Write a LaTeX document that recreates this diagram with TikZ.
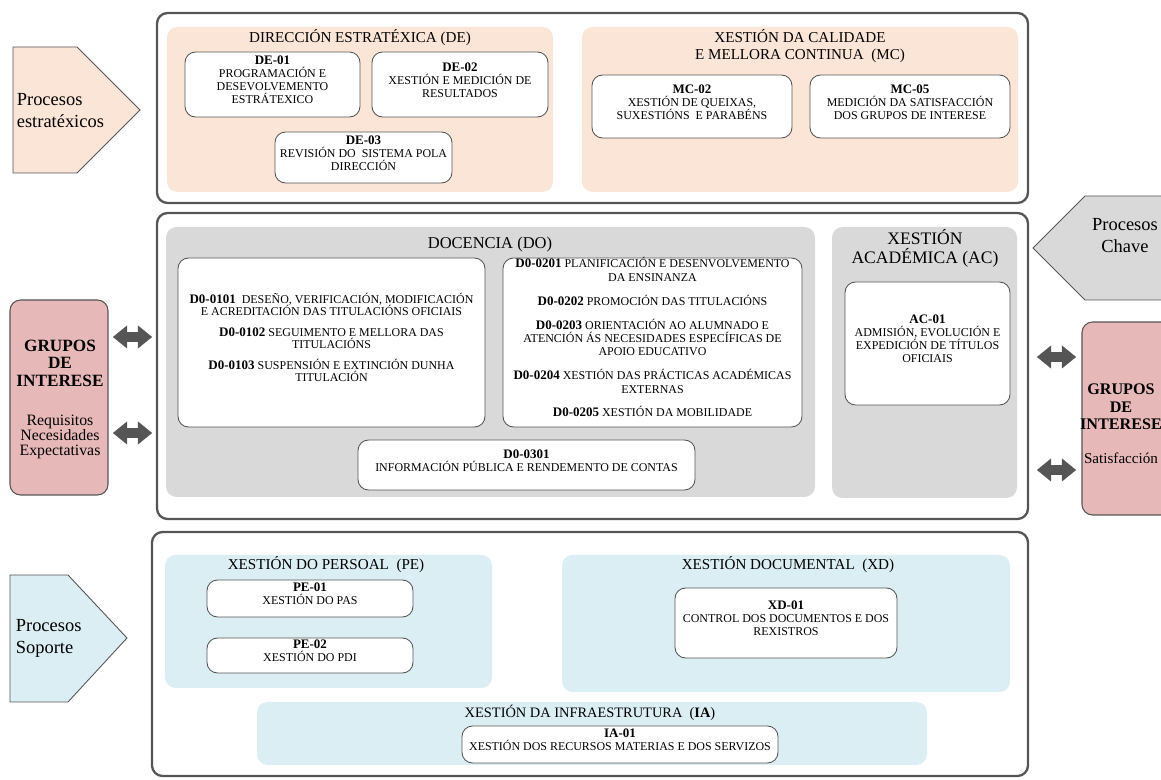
\documentclass[tikz,border=0pt]{standalone}
\usepackage{fontspec}
\setmainfont{Liberation Serif}
\usetikzlibrary{arrows.meta,fit,positioning}

\definecolor{peach}{HTML}{FBE5D6}
\definecolor{panelgrey}{HTML}{D9D9D9}
\definecolor{panelblue}{HTML}{DBEEF3}
\definecolor{grupopink}{HTML}{E6B9B8}
\definecolor{edgegrey}{HTML}{555555}

\newcommand{\fsbox}{\fontsize{6.8}{7.4}\selectfont}
\newcommand{\fscode}{\fontsize{7.4}{7.4}\selectfont\bfseries}
\newcommand{\fsdol}{\fontsize{6.8}{6.9}\selectfont}
\newcommand{\fsdor}{\fontsize{6.8}{7.6}\selectfont}
\newcommand{\fstitle}{\fontsize{8.6}{10}\selectfont}
\newcommand{\fsproc}{\fontsize{10.5}{12.5}\selectfont}

\tikzset{
	outerbox/.style={draw=edgegrey, line width=1.3pt, rounded corners=6pt, inner sep=0pt},
	panel/.style={rounded corners=6pt, inner sep=0pt},
	procbox/.style={draw=edgegrey, fill=white, line width=0.5pt, rounded corners=6pt, inner sep=0pt, align=center, font=\fsbox},
	paneltitle/.style={align=center, font=\fstitle, inner sep=0pt},
	procshape/.style={draw=edgegrey, line width=0.5pt},
	proctext/.style={align=left, font=\fsproc, inner sep=2pt},
	grupobox/.style={draw=edgegrey, fill=grupopink, line width=0.6pt, rounded corners=6pt, inner sep=0pt},
	grupohead/.style={align=center, font=\fontsize{9.8}{10}\selectfont\bfseries, inner sep=0pt},
	grupotext/.style={align=center, font=\fontsize{9}{8.6}\selectfont, inner sep=0pt},
	dblarrow/.style={draw=edgegrey, line width=5.5pt, {Triangle[length=8pt,width=13pt,line width=0.1pt]}-{Triangle[length=8pt,width=13pt,line width=0.1pt]}},
}

\begin{document}
\begin{tikzpicture}[x=0.02cm, y=-0.02cm]
	\useasboundingbox (0,0) rectangle (1161,780);
	\clip (0,0) rectangle (1161,780);
	
	% procesos estratexicos
	\node (estrat) [outerbox, fit={(157,13) (1028,203)}] {};
	\node (de) [panel, fill=peach, fit={(167,27) (553,192)}] {};
	\node (detit) [paneltitle] at (360,38) {DIRECCIÓN ESTRATÉXICA (DE)};
	\node (de01) [procbox, fit={(185,52) (360,117)}] {{\fscode DE-01}\\PROGRAMACIÓN E\\DESEVOLVEMENTO\\ESTRÁTEXICO};
	\node (de02) [procbox, fit={(372,52) (548,117)}] {{\fscode DE-02}\\XESTIÓN E MEDICIÓN DE\\RESULTADOS};
	\node (de03) [procbox, fit={(275,132) (452,183)}] {{\fscode DE-03}\\REVISIÓN DO\ \ SISTEMA POLA\\DIRECCIÓN};
	\node (mc) [panel, fill=peach, fit={(582,27) (1018,192)}] {};
	\node (mctit) [paneltitle] at (800,46) {XESTIÓN DA CALIDADE\\E MELLORA CONTINUA\ \ (MC)};
	\node (mc02) [procbox, fit={(592,75) (792,138)}] {{\fscode MC-02}\\XESTIÓN DE QUEIXAS,\\SUXESTIÓNS\ \ E PARABÉNS};
	\node (mc05) [procbox, fit={(810,75) (1010,138)}] {{\fscode MC-05}\\MEDICIÓN DA SATISFACCIÓN\\DOS GRUPOS DE INTERESE};
	\draw[procshape, fill=peach] (13,47) -- (77,47) -- (140,110) -- (77,173) -- (13,173) -- cycle;
	\node (pestr) [proctext, anchor=west] at (13,111) {Procesos\\estratéxicos};
	
	% procesos chave
	\node (chave) [outerbox, fit={(157,213) (1028,519)}] {};
	\node (do) [panel, fill=panelgrey, fit={(166,227) (815,497)}] {};
	\node (dotit) [paneltitle, font=\fontsize{9.4}{10}\selectfont] at (490,245) {DOCENCIA (DO)};
	\node (do01) [procbox, font=\fsdol, fit={(178,258) (485,427)}] {{\fscode D0-0101}\ \ DESEÑO, VERIFICACIÓN, MODIFICACIÓN\\E ACREDITACIÓN DAS TITULACIÓNS OFICIAIS\\[5pt]{\fscode D0-0102} SEGUIMENTO E MELLORA DAS\\TITULACIÓNS\\[5pt]{\fscode D0-0103} SUSPENSIÓN E EXTINCIÓN DUNHA\\TITULACIÓN};
	\node (do02) [procbox, font=\fsdor, fit={(503,258) (802,427)}] {{\fscode D0-0201} PLANIFICACIÓN E DESENVOLVEMENTO\\DA ENSINANZA\\[6pt]{\fscode D0-0202} PROMOCIÓN DAS TITULACIÓNS\\[6pt]{\fscode D0-0203} ORIENTACIÓN AO ALUMNADO E\\ATENCIÓN ÁS NECESIDADES ESPECÍFICAS DE\\APOIO EDUCATIVO\\[6pt]{\fscode D0-0204} XESTIÓN DAS PRÁCTICAS ACADÉMICAS\\EXTERNAS\\[6pt]{\fscode D0-0205} XESTIÓN DA MOBILIDADE};
	\node (do03) [procbox, fit={(358,440) (695,490)}] {{\fscode D0-0301}\\INFORMACIÓN PÚBLICA E RENDEMENTO DE CONTAS};
	\node (ac) [panel, fill=panelgrey, fit={(832,227) (1017,498)}] {};
	\node (actit) [paneltitle, font=\fontsize{10}{11}\selectfont] at (925,248) {XESTIÓN\\ACADÉMICA (AC)};
	\node (ac01) [procbox, fit={(845,282) (1010,405)}] {{\fscode AC-01}\\ADMISIÓN, EVOLUCIÓN E\\EXPEDICIÓN DE TÍTULOS\\OFICIAIS};
	\draw[procshape, fill=panelgrey] (1175,196) -- (1085,196) -- (1033,248) -- (1085,300) -- (1175,300) -- cycle;
	\node (pchave) [proctext, align=center] at (1125,236) {Procesos\\Chave};
	
	% procesos soporte
	\node (soporte) [outerbox, fit={(152,532) (1028,776)}] {};
	\node (pe) [panel, fill=panelblue, fit={(165,555) (492,688)}] {};
	\node (petit) [paneltitle] at (326,565) {XESTIÓN DO PERSOAL\ \ (PE)};
	\node (pe01) [procbox, fit={(207,580) (413,617)}] {{\fscode PE-01}\\XESTIÓN DO PAS};
	\node (pe02) [procbox, fit={(207,638) (413,673)}] {{\fscode PE-02}\\XESTIÓN DO PDI};
	\node (xd) [panel, fill=panelblue, fit={(562,555) (1010,692)}] {};
	\node (xdtit) [paneltitle] at (788,565) {XESTIÓN DOCUMENTAL\ \ (XD)};
	\node (xd01) [procbox, fit={(675,588) (897,658)}] {{\fscode XD-01}\\CONTROL DOS DOCUMENTOS E DOS\\REXISTROS};
	\node (ia) [panel, fill=panelblue, fit={(257,702) (927,765)}] {};
	\node (iatit) [paneltitle, font=\fontsize{8.2}{10}\selectfont] at (590,713) {XESTIÓN DA INFRAESTRUTURA\ \ (\textbf{IA})};
	\node (ia01) [procbox, fit={(462,726) (778,763)}] {{\fscode IA-01}\\XESTIÓN DOS RECURSOS MATERIAS E DOS SERVIZOS};
	\draw[procshape, fill=panelblue] (10,575) -- (68,575) -- (127,638) -- (68,702) -- (10,702) -- cycle;
	\node (psop) [proctext, anchor=west] at (12,638) {Procesos\\Soporte};
	
	% grupos de interese
	\node (grupl) [grupobox, fit={(10,300) (108,495)}] {};
	\node (grupltit) [grupohead] at (60,363) {GRUPOS\\DE\\INTERESE};
	\node (grupltxt) [grupotext] at (60,437) {Requisitos\\Necesidades\\Expectativas};
	\node (grupr) [grupobox, fit={(1082,322) (1182,515)}] {};
	\node (gruprtit) [grupohead, font=\fontsize{9.2}{10}\selectfont\bfseries] at (1121,407) {GRUPOS\\DE\\INTERESE};
	\node (gruprtxt) [grupotext, font=\fontsize{8.6}{8.6}\selectfont] at (1121,458) {Satisfacción};
	
	\coordinate (la1) at (113,337);
	\coordinate (lb1) at (152,337);
	\coordinate (la2) at (113,433);
	\coordinate (lb2) at (152,433);
	\coordinate (ra1) at (1037,357);
	\coordinate (rb1) at (1076,357);
	\coordinate (ra2) at (1037,470);
	\coordinate (rb2) at (1076,470);
	\draw[dblarrow] (la1) -- (lb1);
	\draw[dblarrow] (la2) -- (lb2);
	\draw[dblarrow] (ra1) -- (rb1);
	\draw[dblarrow] (ra2) -- (rb2);
\end{tikzpicture}
\end{document}
